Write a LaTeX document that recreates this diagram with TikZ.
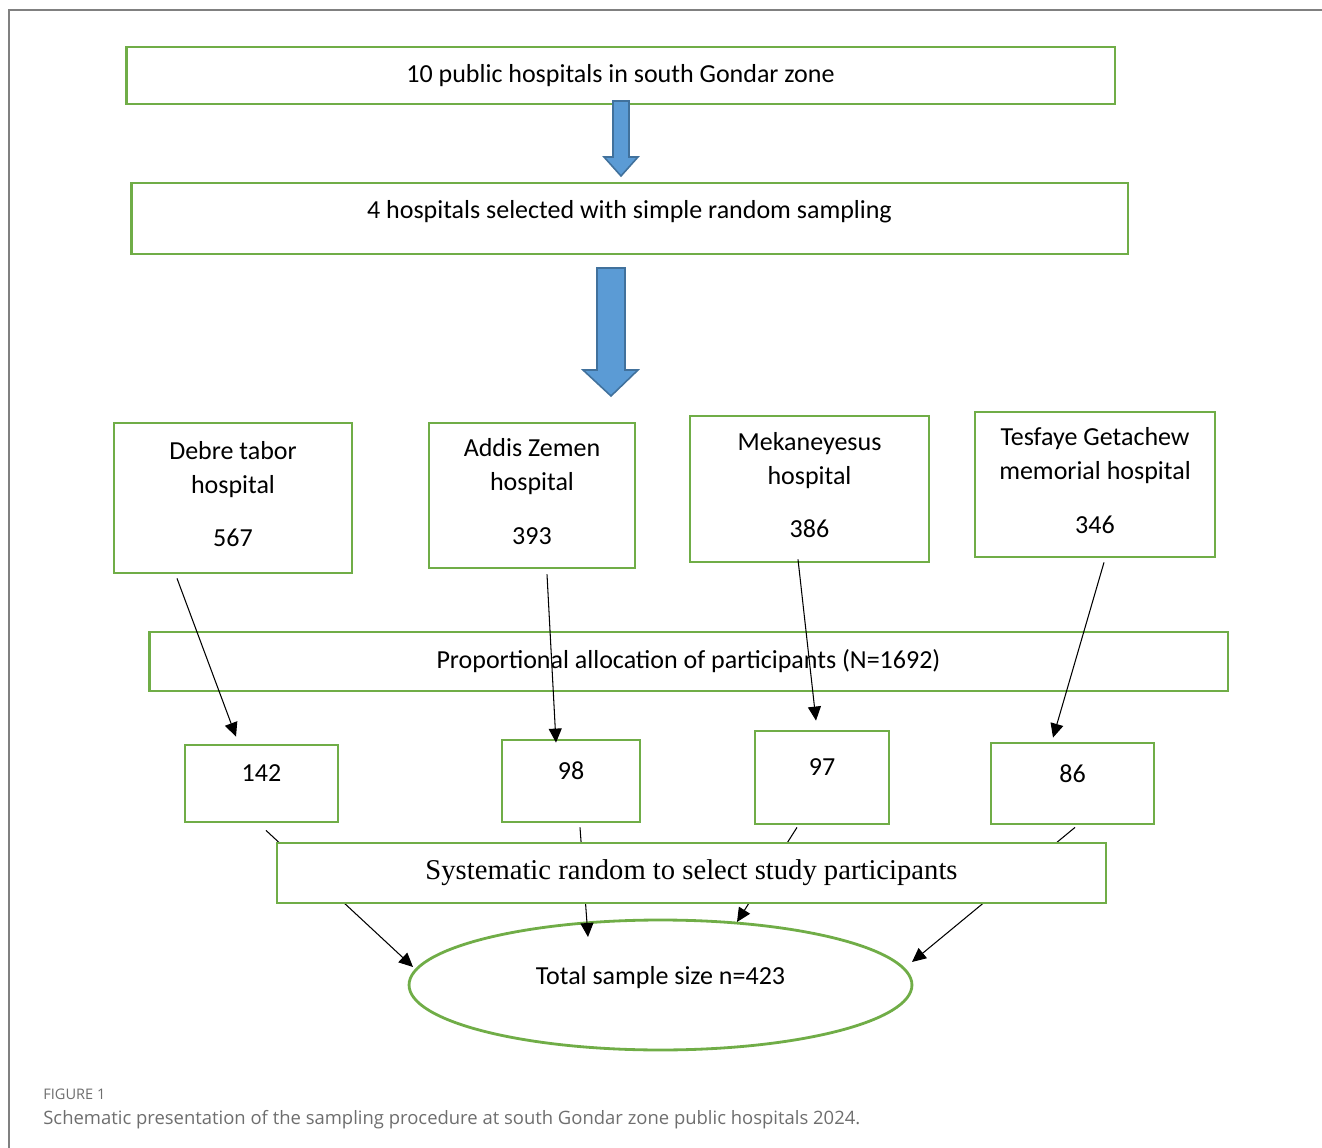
\documentclass[tikz,border=0pt]{standalone}
\usepackage{fontspec}
\setmainfont{Carlito}
\newfontfamily\timesfont{Liberation Serif}
\newfontfamily\capfont{Open Sans}
\usetikzlibrary{arrows.meta, positioning, shapes.geometric, calc}
\definecolor{boxGreen}{HTML}{70AD47}
\definecolor{arrFill}{HTML}{5B9BD5}
\definecolor{arrEdge}{HTML}{41719C}
\definecolor{capGray}{HTML}{6E6E6E}
\definecolor{frameGray}{HTML}{808080}
\tikzset{
  stepbox/.style={draw=boxGreen, line width=1.6pt, fill=white, inner sep=0pt, align=center, font=\fontsize{14.8pt}{19.3pt}\selectfont},
  hospbox/.style={stepbox, text depth=0.16cm},
  countbox/.style={stepbox, text depth=0.4cm},
  blockarr/.style={draw=arrEdge, fill=arrFill, line width=0.9pt, line join=miter},
  thinarr/.style={-{Triangle[length=0.28cm, width=0.26cm]}, black, line width=0.6pt},
}

\begin{document}
\begin{tikzpicture}[x=0.02cm, y=-0.02cm]
    \useasboundingbox (0,0) rectangle (1322,1148);
    \draw[frameGray, line width=0.8pt] (9,1148) -- (9,10) -- (1322,10);

    % top two levels
    \node[stepbox, minimum width=19.78cm, minimum height=1.14cm] (zone) at (620.5,75.5)
      {10 public hospitals in south Gondar zone};
    \node[stepbox, text depth=0.36cm, minimum width=19.94cm, minimum height=1.42cm] (sel) at (629.5,218.5)
      {4 hospitals selected with simple random sampling};
    \draw[blockarr] (613,101) -- (629,101) -- (629,157) -- (638,157) -- (621,176) -- (604,157) -- (613,157) -- cycle;
    \draw[blockarr] (597,268) -- (625,268) -- (625,370) -- (638,370) -- (611,396) -- (583,370) -- (597,370) -- cycle;

    % hospitals
    \node[hospbox, minimum width=4.76cm, minimum height=3cm] (debre) at (233,498)
      {Debre tabor\\hospital\\[11.3pt]567};
    \node[hospbox, minimum width=4.12cm, minimum height=2.9cm] (addis) at (532,495.5)
      {Addis Zemen\\hospital\\[11.3pt]393};
    \node[hospbox, minimum width=4.78cm, minimum height=2.92cm] (meka) at (809.5,489)
      {Mekaneyesus\\hospital\\[11.3pt]386};
    \node[hospbox, minimum width=4.8cm, minimum height=2.9cm] (tesf) at (1095,484.5)
      {Tesfaye Getachew\\memorial hospital\\[11.3pt]346};

    \node[stepbox, minimum width=21.58cm, minimum height=1.18cm] (prop) at (688.5,661.5)
      {Proportional allocation of participants (N=1692)};

    % allocated numbers
    \node[countbox, minimum width=3.06cm, minimum height=1.54cm] (n142) at (261.5,783.5) {142};
    \node[countbox, minimum width=2.76cm, minimum height=1.64cm] (n98) at (571,781) {98};
    \node[countbox, minimum width=2.68cm, minimum height=1.86cm] (n97) at (822,777.5) {97};
    \node[countbox, minimum width=3.26cm, minimum height=1.62cm] (n86) at (1072.5,783.5) {86};

    \draw[thinarr] ($(debre.south)+(-56,4)$) -- ($(n142.north)+(-25.5,-7)$);
    \draw[thinarr] ($(addis.south)+(15,5)$) -- ($(n98.north)+(-15,4)$);
    \draw[thinarr] ($(meka.south)+(-11.5,-4)$) -- ($(n97.north)+(-6,-9)$);
    \draw[thinarr] ($(tesf.south)+(9,4)$) -- ($(n86.north)+(-19.5,-4)$);

    \node[stepbox, shape=ellipse, text depth=0.4cm, minimum width=10.06cm, minimum height=2.6cm] (total) at (660.5,985)
      {Total sample size n=423};

    \draw[thinarr] ($(n142.south)+(4.5,7)$) -- ($(total.center)+(-247.5,-18)$);
    \draw[thinarr] ($(n98.south)+(9,4)$) -- ($(total.center)+(-72.5,-48)$);
    \draw[thinarr] ($(n97.south)+(-25,2)$) -- ($(total.center)+(76.5,-63)$);
    \draw[thinarr] ($(n86.south)+(2.5,2)$) -- ($(total.center)+(251.5,-23)$);

    % drawn last so it hides the middle of the lower arrows
    \node[stepbox, font=\timesfont\fontsize{16.3pt}{19pt}\selectfont, minimum width=16.58cm, minimum height=1.2cm] (syst) at (691.5,873)
      {Systematic random to select study participants};

    % caption
    \node[anchor=base west, inner sep=0pt, text=capGray, font=\capfont\fontsize{8.3pt}{10pt}\selectfont] (figno) at (43,1099.5) {FIGURE 1};
    \node[anchor=base west, inner sep=0pt, text=capGray, font=\capfont\fontsize{10.5pt}{13pt}\selectfont] (cap) at (43,1124)
      {Schematic presentation of the sampling procedure at south Gondar zone public hospitals 2024.};
\end{tikzpicture}
\end{document}
